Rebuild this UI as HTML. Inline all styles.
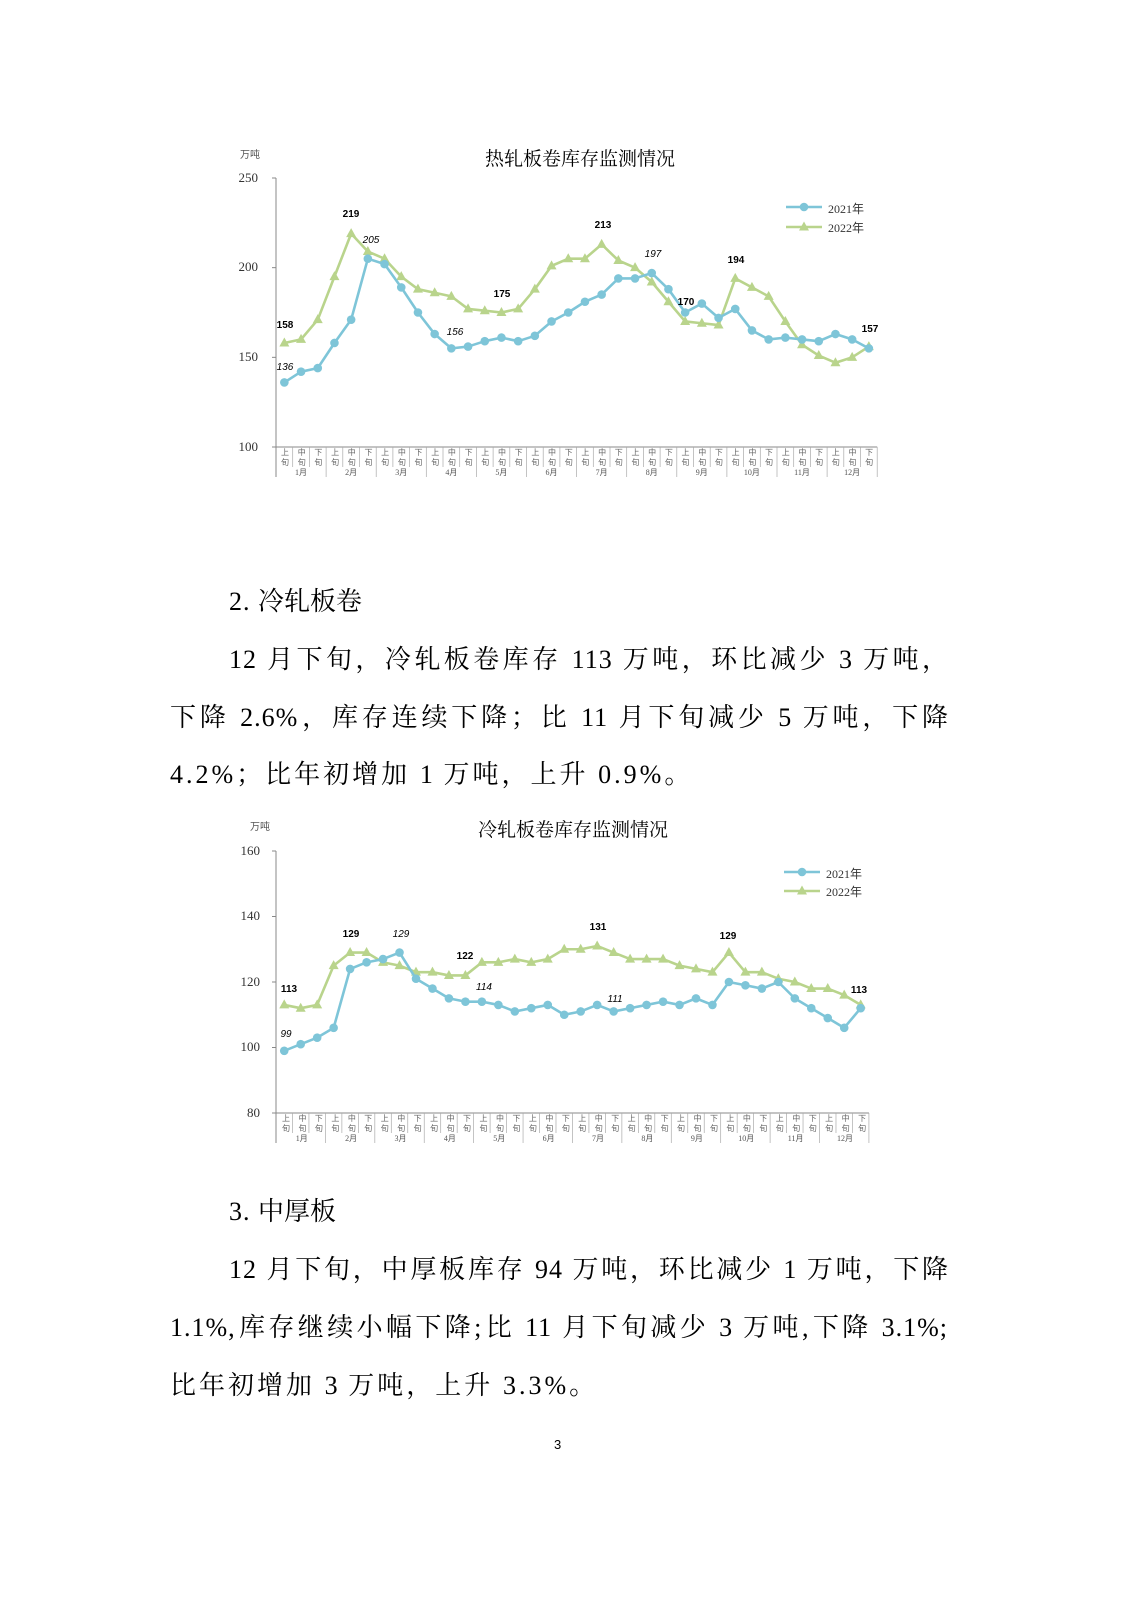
<!DOCTYPE html>
<html><head><meta charset="utf-8">
<style>
body{margin:0;background:#fff;}
#pg{position:relative;width:1131px;height:1600px;overflow:hidden;font-family:"Liberation Serif","Noto Serif CJK SC",serif;color:#000;}
.t{position:absolute;white-space:nowrap;}
.b{position:absolute;font-size:26px;line-height:30px;white-space:nowrap;font-family:"Noto Serif CJK SC",serif;}
.b .n{font-family:"Liberation Serif",serif;font-size:26px;letter-spacing:1px;}
.j{text-align:justify;text-align-last:justify;white-space:normal;}
svg{position:absolute;left:0;top:0;}
.tk{font-family:"Noto Sans CJK SC",sans-serif;font-size:8px;letter-spacing:8.69px;color:#666;line-height:9px;}
.mo{position:absolute;display:flex;font-family:"Liberation Serif","Noto Sans CJK SC",serif;font-size:8px;color:#555;}
.mo span{width:50.1px;text-align:center;display:block;}
.dl{position:absolute;font-family:"Liberation Sans",sans-serif;font-size:10px;font-weight:bold;transform:translateX(-50%);}
.di{position:absolute;font-family:"Liberation Sans",sans-serif;font-size:10px;font-style:italic;transform:translateX(-50%);}
.ax{position:absolute;font-family:"Liberation Serif",serif;font-size:13px;color:#333;text-align:right;width:40px;}
.lg{position:absolute;font-family:"Liberation Serif","Noto Sans CJK SC",serif;font-size:12px;color:#333;}
.ti{position:absolute;font-family:"Noto Serif CJK SC",serif;font-size:19px;transform:translateX(-50%);}
</style></head><body><div id="pg">
<svg id="s" width="1131" height="1600"></svg>

<div class="t" style="left:240px;top:146px;font-size:10px;font-family:'Noto Sans CJK SC',sans-serif;color:#555;">万吨</div>
<div class="ti" style="left:580px;top:144px;">热轧板卷库存监测情况</div>
<div class="ax" style="left:218px;top:170px;">250</div>
<div class="ax" style="left:218px;top:259px;">200</div>
<div class="ax" style="left:218px;top:349px;">150</div>
<div class="ax" style="left:218px;top:439px;">100</div>
<div class="t tk" style="left:281px;top:448px;">上中下上中下上中下上中下上中下上中下上中下上中下上中下上中下上中下上中下</div>
<div class="t tk" style="left:281px;top:458px;">旬旬旬旬旬旬旬旬旬旬旬旬旬旬旬旬旬旬旬旬旬旬旬旬旬旬旬旬旬旬旬旬旬旬旬旬</div>
<div class="mo" style="left:276px;top:467px;"><span>1月</span><span>2月</span><span>3月</span><span>4月</span><span>5月</span><span>6月</span><span>7月</span><span>8月</span><span>9月</span><span>10月</span><span>11月</span><span>12月</span></div>
<div class="lg" style="left:828px;top:200px;">2021年</div>
<div class="lg" style="left:828px;top:219px;">2022年</div>
<div class="dl" style="left:285px;top:320px;">158</div>
<div class="di" style="left:285px;top:362px;">136</div>
<div class="dl" style="left:351px;top:209px;">219</div>
<div class="di" style="left:371px;top:235px;">205</div>
<div class="dl" style="left:502px;top:289px;">175</div>
<div class="di" style="left:455px;top:327px;">156</div>
<div class="dl" style="left:603px;top:220px;">213</div>
<div class="di" style="left:653px;top:249px;">197</div>
<div class="dl" style="left:686px;top:297px;">170</div>
<div class="dl" style="left:736px;top:255px;">194</div>
<div class="dl" style="left:870px;top:324px;">157</div>

<div class="b" style="left:229px;top:585px;"><span class="n">2. </span>冷轧板卷</div>
<div class="b j" style="left:229px;top:643px;width:719px;"><span class="n">12</span> 月下旬，冷轧板卷库存 <span class="n">113</span> 万吨，环比减少 <span class="n">3</span> 万吨，</div>
<div class="b j" style="left:170px;top:701px;width:778px;">下降 <span class="n">2.6%</span>，库存连续下降；比 <span class="n">11</span> 月下旬减少 <span class="n">5</span> 万吨，下降</div>
<div class="b" style="left:170px;top:758px;letter-spacing:3px;"><span class="n" style="letter-spacing:3px">4.2%</span>；比年初增加 <span class="n">1</span> 万吨，上升 <span class="n" style="letter-spacing:3px">0.9%</span>。</div>

<div class="t" style="left:250px;top:818px;font-size:10px;font-family:'Noto Sans CJK SC',sans-serif;color:#555;">万吨</div>
<div class="ti" style="left:573px;top:815px;">冷轧板卷库存监测情况</div>
<div class="ax" style="left:220px;top:843px;">160</div>
<div class="ax" style="left:220px;top:908px;">140</div>
<div class="ax" style="left:220px;top:974px;">120</div>
<div class="ax" style="left:220px;top:1039px;">100</div>
<div class="ax" style="left:220px;top:1105px;">80</div>
<div class="t tk" style="left:282px;top:1114px;letter-spacing:8.46px;">上中下上中下上中下上中下上中下上中下上中下上中下上中下上中下上中下上中下</div>
<div class="t tk" style="left:282px;top:1124px;letter-spacing:8.46px;">旬旬旬旬旬旬旬旬旬旬旬旬旬旬旬旬旬旬旬旬旬旬旬旬旬旬旬旬旬旬旬旬旬旬旬旬</div>
<div class="mo" style="left:277px;top:1133px;"><span style="width:49.4px">1月</span><span style="width:49.4px">2月</span><span style="width:49.4px">3月</span><span style="width:49.4px">4月</span><span style="width:49.4px">5月</span><span style="width:49.4px">6月</span><span style="width:49.4px">7月</span><span style="width:49.4px">8月</span><span style="width:49.4px">9月</span><span style="width:49.4px">10月</span><span style="width:49.4px">11月</span><span style="width:49.4px">12月</span></div>
<div class="lg" style="left:826px;top:865px;">2021年</div>
<div class="lg" style="left:826px;top:883px;">2022年</div>
<div class="dl" style="left:289px;top:984px;">113</div>
<div class="di" style="left:286px;top:1029px;">99</div>
<div class="dl" style="left:351px;top:929px;">129</div>
<div class="di" style="left:401px;top:929px;">129</div>
<div class="dl" style="left:465px;top:951px;">122</div>
<div class="di" style="left:484px;top:982px;">114</div>
<div class="dl" style="left:598px;top:922px;">131</div>
<div class="di" style="left:615px;top:994px;">111</div>
<div class="dl" style="left:728px;top:931px;">129</div>
<div class="dl" style="left:859px;top:985px;">113</div>

<div class="b" style="left:229px;top:1195px;"><span class="n">3. </span>中厚板</div>
<div class="b j" style="left:229px;top:1253px;width:719px;"><span class="n">12</span> 月下旬，中厚板库存 <span class="n">94</span> 万吨，环比减少 <span class="n">1</span> 万吨，下降</div>
<div class="b j" style="left:170px;top:1311px;width:778px;"><span class="n">1.1%,</span>库存继续小幅下降<span class="n">;</span>比 <span class="n">11</span> 月下旬减少 <span class="n">3</span> 万吨<span class="n">,</span>下降 <span class="n">3.1%;</span></div>
<div class="b" style="left:170px;top:1369px;letter-spacing:3px;">比年初增加 <span class="n">3</span> 万吨，上升 <span class="n" style="letter-spacing:3px">3.3%</span>。</div>
<div class="t" style="left:554px;top:1437px;font-size:13px;font-family:'Liberation Sans',sans-serif;">3</div>
</div>
<script>
var NS="http://www.w3.org/2000/svg",S=document.getElementById('s');
function el(n,a){var e=document.createElementNS(NS,n);for(var k in a)e.setAttribute(k,a[k]);S.appendChild(e);return e;}
var B="#7ec5d8",G="#b9d48c";
function chart(o){
 var ax=o.ax,top=o.top,bot=o.bot,cw=o.cw;
 el('line',{x1:ax,y1:top,x2:ax,y2:bot+30,stroke:'#888','stroke-width':1});
 el('line',{x1:ax,y1:bot,x2:ax+36*cw,y2:bot,stroke:'#888','stroke-width':1});
 o.ticks.forEach(function(v){var y=o.y(v);el('line',{x1:ax-4,y1:y,x2:ax,y2:y,stroke:'#888'});});
 for(var i=1;i<=36;i++){var x=ax+i*cw;el('line',{x1:x,y1:bot,x2:x,y2:bot+(i%3==0?30:20),stroke:'#aaa','stroke-width':0.7});}
 function X(i){return ax+cw*(i+0.5);}
 function series(d,c,m){var p=d.map(function(v,i){return X(i)+','+o.y(v)}).join(' ');
  el('polyline',{points:p,fill:'none',stroke:c,'stroke-width':2.6,'stroke-linejoin':'round'});
  d.forEach(function(v,i){mk(X(i),o.y(v),c,m);});}
 function mk(x,y,c,m){if(m=='c')el('circle',{cx:x,cy:y,r:4.3,fill:c});else el('polygon',{points:(x)+','+(y-5.5)+' '+(x-5)+','+(y+3.5)+' '+(x+5)+','+(y+3.5),fill:c});}
 series(o.g,G,'t');series(o.b,B,'c');
 var lx=o.lx,l1=o.l1,l2=o.l2;
 el('line',{x1:lx,y1:l1,x2:lx+36,y2:l1,stroke:B,'stroke-width':2.6});mk(lx+18,l1,B,'c');
 el('line',{x1:lx,y1:l2,x2:lx+36,y2:l2,stroke:G,'stroke-width':2.6});mk(lx+18,l2,G,'t');
}
chart({ax:276,top:178,bot:447,cw:16.7,ticks:[250,200,150,100],y:function(v){return 447-(v-100)*269/150;},
 b:[136,142,144,158,171,205,202,189,175,163,155,156,159,161,159,162,170,175,181,185,194,194,197,188,175,180,172,177,165,160,161,160,159,163,160,155],
 g:[158,160,171,195,219,209,205,195,188,186,184,177,176,175,177,188,201,205,205,213,204,200,192,181,170,169,168,194,189,184,170,157,151,147,150,156],
 lx:786,l1:207,l2:227});
chart({ax:276,top:851,bot:1113,cw:16.47,ticks:[160,140,120,100,80],y:function(v){return 1113-(v-80)*262/80;},
 b:[99,101,103,106,124,126,127,129,121,118,115,114,114,113,111,112,113,110,111,113,111,112,113,114,113,115,113,120,119,118,120,115,112,109,106,112],
 g:[113,112,113,125,129,129,126,125,123,123,122,122,126,126,127,126,127,130,130,131,129,127,127,127,125,124,123,129,123,123,121,120,118,118,116,113],
 lx:784,l1:872,l2:891});
</script>
</body></html>
